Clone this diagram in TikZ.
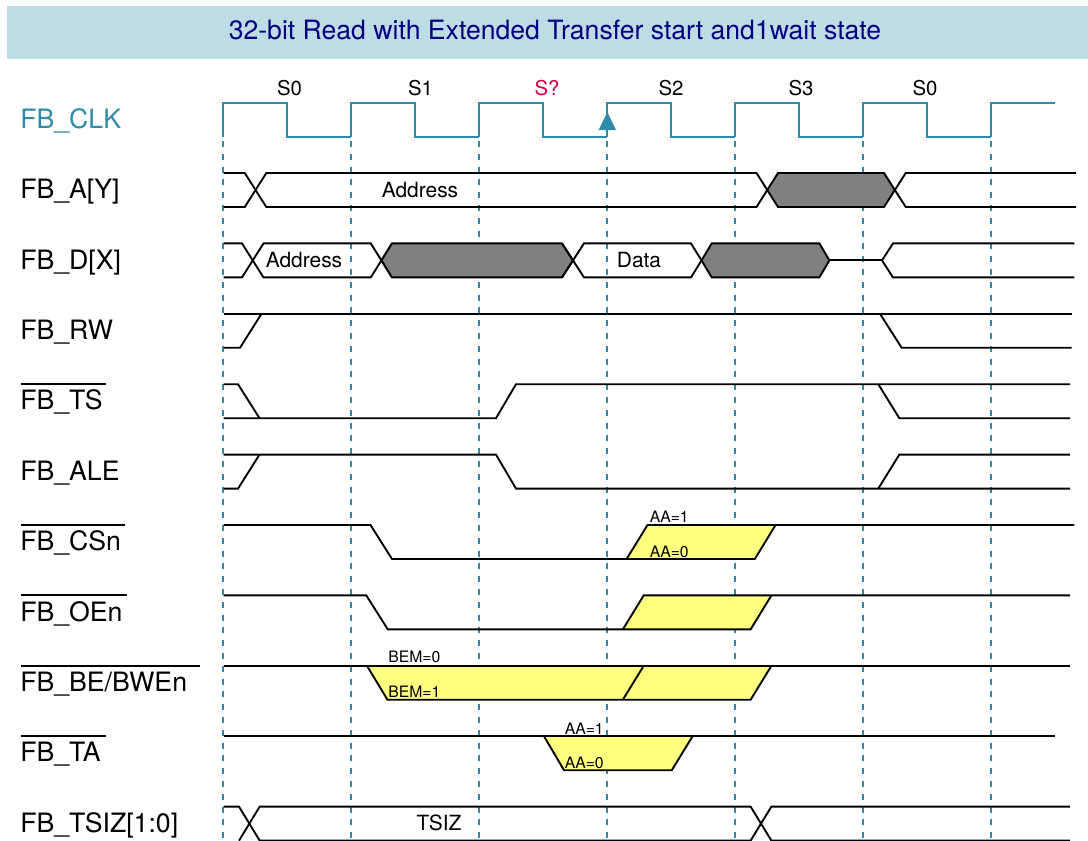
\documentclass[tikz,border=0pt]{standalone}
\usepackage{fontspec}
\setmainfont{TeX Gyre Heros}
\usepackage{xcolor}
\usetikzlibrary{positioning}
\definecolor{clkcol}{HTML}{2E8CA8}
\definecolor{titlebg}{HTML}{BEDCE4}
\definecolor{titlecol}{HTML}{000080}
\definecolor{waitcol}{HTML}{D0003C}
\definecolor{optcol}{HTML}{FFFF80}
\tikzset{
  sig/.style={anchor=base west,inner sep=0pt,font=\fontsize{20}{22}\selectfont},
  state/.style={inner sep=0pt,font=\fontsize{15.3}{18}\selectfont},
  val/.style={inner sep=0pt,font=\fontsize{15.7}{18}\selectfont},
  tiny/.style={anchor=west,inner sep=0pt,font=\fontsize{11.8}{14}\selectfont},
  wave/.style={draw=black,line width=1.4pt,line join=miter},
  busy/.style={wave,fill=black!50},
  edgeln/.style={draw=clkcol,line width=1.5pt,dash pattern=on 4.5pt off 5.1pt},
  clk/.style={draw=clkcol,line width=1.5pt}
}

\begin{document}
\begin{tikzpicture}[x=0.75pt,y=-0.75pt]
  \useasboundingbox (0,0) rectangle (1088,840);
  % title
  \fill[titlebg] (7,6) rectangle (1088,59);
  \node[font=\fontsize{19.95}{22}\selectfont,text=titlecol,inner sep=0pt] (title) at (555,30) {32-bit Read with Extended Transfer start and1wait state};

  % clock edges
  \foreach \x in {223.3,351.3,479.3,607.3,735.3,863.3,991.3}
    \draw[edgeln] (\x,102.6) -- (\x,840);

  % clock
  \foreach \x in {223.3,351.3,479.3,607.3,735.3,863.3}
    \draw[clk] (\x,137) -- (\x,102.6) -- ++(64,0) -- ++(0,34.4) -- ++(64,0);
  \draw[clk] (991.3,137) -- (991.3,102.6) -- (1055,102.6);
  \fill[clkcol] (607.3,112) -- (616,130) -- (598.6,130) -- cycle;
  \node[state] (s0) at (289.5,88) {S0};
  \node[state] (s1) at (420.5,88) {S1};
  \node[state,text=waitcol] (sw) at (547,88) {S?};
  \node[state] (s2) at (671,88) {S2};
  \node[state] (s3) at (801,88) {S3};
  \node[state] (s4) at (925,88) {S0};

  % signal names
  \node[sig,text=clkcol] (clkname) at (20,128.3) {FB\_CLK};
  \node[sig] (aname) at (20,198.7) {FB\_A[Y]};
  \node[sig] (dname) at (20,269.1) {FB\_D[X]};
  \node[sig] (rwname) at (20,339.5) {FB\_RW};
  \node[sig] (tsname) at (20,409.9) {FB\_TS};
  \node[sig] (alename) at (20,480.3) {FB\_ALE};
  \node[sig] (csname) at (20,550.7) {FB\_CSn};
  \node[sig] (oename) at (20,621.1) {FB\_OEn};
  \node[sig] (bename) at (20,691.5) {FB\_BE/BWEn};
  \node[sig] (taname) at (20,761.9) {FB\_TA};
  \node[sig] (tsizname) at (20,832) {FB\_TSIZ[1:0]};
  \draw[wave] (21,384.2) -- (106,384.2);
  \draw[wave] (21,525) -- (125,525);
  \draw[wave] (21,595.4) -- (127,595.4);
  \draw[wave] (21,665.8) -- (200,665.8);
  \draw[wave] (21,736.2) -- (106,736.2);

  % FB_A
  \fill[black!50] (767.2,190) -- (778,173) -- (884,173) -- (895,190) -- (884,207) -- (778,207) -- cycle;
  \draw[wave] (223.5,173) -- (244.8,173) -- (266.3,207) -- (756.5,207) -- (778,173) -- (884,173) -- (905.7,207) -- (1076,207);
  \draw[wave] (223.5,207) -- (244.8,207) -- (266.3,173) -- (756.5,173) -- (778,207) -- (884,207) -- (905.7,173) -- (1076,173);
  \node[val] (addr) at (420,190) {Address};

  % FB_D
  \draw[wave] (223.5,243.4) -- (242,243.4) -- (263.5,277.4) -- (370.8,277.4) -- (392,243.4);
  \draw[wave] (223.5,277.4) -- (242,277.4) -- (263.5,243.4) -- (370.8,243.4) -- (392,277.4);
  \draw[busy] (381.5,260.4) -- (392,243.4) -- (562,243.4) -- (573,260.4) -- (562,277.4) -- (392,277.4) -- cycle;
  \draw[wave] (562,243.4) -- (584,277.4) -- (691,277.4) -- (701.5,260.4);
  \draw[wave] (562,277.4) -- (584,243.4) -- (691,243.4) -- (701.5,260.4);
  \draw[busy] (701.5,260.4) -- (711.7,243.4) -- (819.4,243.4) -- (829.4,260.4) -- (819.4,277.4) -- (711.7,277.4) -- cycle;
  \draw[wave] (829.4,260.4) -- (882,260.4);
  \draw[wave] (1074.3,243.4) -- (893,243.4) -- (882,260.4) -- (893,277.4) -- (1074.3,277.4);
  \node[val] (daddr) at (304,260) {Address};
  \node[val] (data) at (639,260) {Data};

  % FB_RW
  \draw[wave] (223.5,313.8) -- (1071.7,313.8);
  \draw[wave] (223.5,347.8) -- (240,347.8) -- (261.5,313.8);
  \draw[wave] (880,313.8) -- (901.7,347.8) -- (1071.7,347.8);
  % FB_TS
  \draw[wave] (223.5,384.2) -- (238,384.2) -- (259.5,418.2);
  \draw[wave] (223.5,418.2) -- (496,418.2) -- (516,384.2) -- (1070,384.2);
  \draw[wave] (878.3,384.2) -- (899.3,418.2) -- (1070,418.2);
  % FB_ALE
  \draw[wave] (223.5,454.6) -- (496,454.6) -- (516,488.6) -- (1070,488.6);
  \draw[wave] (223.5,488.6) -- (238,488.6) -- (259.5,454.6);
  \draw[wave] (878.3,488.6) -- (899.3,454.6) -- (1070,454.6);

  % FB_CS
  \fill[optcol] (626.6,559) -- (647.5,525) -- (775.6,525) -- (754.8,559) -- cycle;
  \draw[wave] (223.5,525) -- (370.5,525) -- (392,559) -- (754.8,559) -- (775.6,525) -- (1074.3,525);
  \draw[wave] (626.6,559) -- (647.5,525) -- (775.6,525);
  \node[tiny] (csaa1) at (649.5,517) {AA=1};
  \node[tiny] (csaa0) at (649.5,552) {AA=0};

  % FB_OE
  \fill[optcol] (622.8,629.4) -- (643.7,595.4) -- (771.4,595.4) -- (750.6,629.4) -- cycle;
  \draw[wave] (223.5,595.4) -- (366.3,595.4) -- (387.8,629.4) -- (750.6,629.4) -- (771.4,595.4) -- (1070,595.4);
  \draw[wave] (622.8,629.4) -- (643.7,595.4) -- (771.4,595.4);

  % FB_BE
  \fill[optcol] (367,665.8) -- (771.4,665.8) -- (750.6,699.8) -- (387.5,699.8) -- cycle;
  \draw[wave] (223.5,665.8) -- (1070,665.8);
  \draw[wave] (367,665.8) -- (387.5,699.8) -- (750.6,699.8) -- (771.4,665.8);
  \draw[wave] (622.8,699.8) -- (643.7,665.8);
  \node[tiny] (bem0) at (388,657) {BEM=0};
  \node[tiny] (bem1) at (388,692) {BEM=1};

  % FB_TA
  \fill[optcol] (544,736.2) -- (692.6,736.2) -- (671.8,770.2) -- (564,770.2) -- cycle;
  \draw[wave] (223.5,736.2) -- (1055,736.2);
  \draw[wave] (544,736.2) -- (564,770.2) -- (671.8,770.2) -- (692.6,736.2);
  \node[tiny] (taaa1) at (564.5,729) {AA=1};
  \node[tiny] (taaa0) at (564.5,763) {AA=0};

  % FB_TSIZ
  \draw[wave] (223.5,806.6) -- (239,806.6) -- (259.7,840.6) -- (750.6,840.6) -- (771.4,806.6) -- (1070,806.6);
  \draw[wave] (239,840.6) -- (259.7,806.6) -- (750.6,806.6) -- (771.4,840.6) -- (1070,840.6);
  \node[val] (tsiz) at (439,823) {TSIZ};
\end{tikzpicture}
\end{document}
